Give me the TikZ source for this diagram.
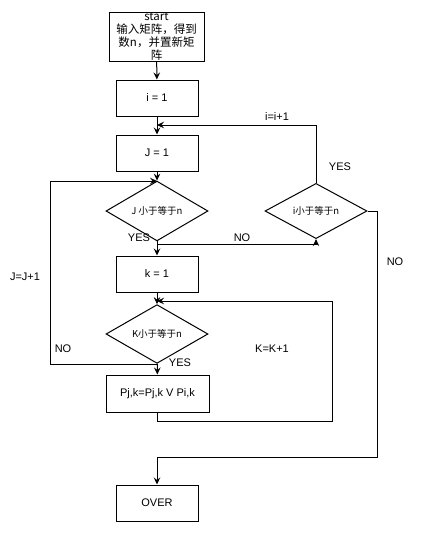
\documentclass[tikz,border=0pt]{standalone}
\usepackage{fontspec}
\setmainfont{Liberation Sans}
\newfontfamily\cjk{Noto Sans CJK SC}
\usetikzlibrary{arrows.meta,shapes}

\begin{document}
\begin{tikzpicture}[x=1pt,y=-1pt,line width=1pt,>={Stealth[length=7pt,width=6.5pt,inset=2.5pt]},
    box/.style={draw,rectangle,minimum width=82pt,minimum height=36pt,inner sep=0pt,font=\fontsize{11}{13}\selectfont},
    choice/.style={draw,diamond,minimum width=102pt,minimum height=43pt,inner sep=0pt,font=\cjk\fontsize{9.5}{11}\selectfont},
    lbl/.style={font=\fontsize{11}{13}\selectfont}]
            \useasboundingbox (0,0) rectangle (422,533);
            \node[box,minimum width=95pt,minimum height=49pt,inner ysep=-4pt,align=center,font=\cjk\fontsize{11.5}{12.8}\selectfont] (start) at (156.5,36.5) {start\\输入矩阵，得到\\数n，并置新矩\\阵};
            \node[box] (i1) at (157,98) {i = 1};
            \node[box] (j1) at (157,153) {J = 1};
            \node[choice] (jdec) at (157,211) {J 小于等于n};
            \node[choice,minimum height=45pt] (idec) at (316,211) {i小于等于n};
            \node[box] (k1) at (157,274) {k = 1};
            \node[choice] (kdec) at (157,334) {K小于等于n};
            \node[box,minimum width=103pt,minimum height=37pt] (upd) at (157.5,393.5) {Pj,k=Pj,k V Pi,k};
            \node[box] (over) at (157,503) {OVER};
            \coordinate (ij) at (157,125);
            \coordinate (jloop) at (157,181);
            \coordinate (jno) at (157,244);
            \coordinate (kloop) at (157,301);
            \coordinate (kno) at (157,364);
            \coordinate (lcorner) at (50,364);
            \coordinate (rcorner) at (332,421);
            \coordinate (oturn) at (377,457);
            \draw[->] (start) -- (i1);
            \draw[->] (i1) -- (j1);
            \draw[->] (j1) -- (jdec);
            \draw[->] (jdec) -- (k1);
            \draw[->] (k1) -- (kdec);
            \draw[->] (kdec) -- (upd);
            \draw[->] (jno) -| (idec.south);
            \draw[->] (idec.north) |- (ij);
            \draw[->] (idec.east) -| (oturn) -| (over.north);
            \draw[->] (kno) -- (lcorner) |- (jloop);
            \draw[->] (upd.south) |- (rcorner) |- (kloop);
            \node[lbl] (yesj) at (139,238) {YES};
            \node[lbl] (noj) at (242,238) {NO};
            \node[lbl] (inc) at (277,117) {i=i+1};
            \node[lbl] (yesi) at (340,167) {YES};
            \node[lbl] (noi) at (395,262) {NO};
            \node[lbl] (jinc) at (25,277) {J=J+1};
            \node[lbl] (nok) at (63,349) {NO};
            \node[lbl] (yesk) at (180,363) {YES};
            \node[lbl] (kinc) at (272,349) {K=K+1};
        \end{tikzpicture}
\end{document}
